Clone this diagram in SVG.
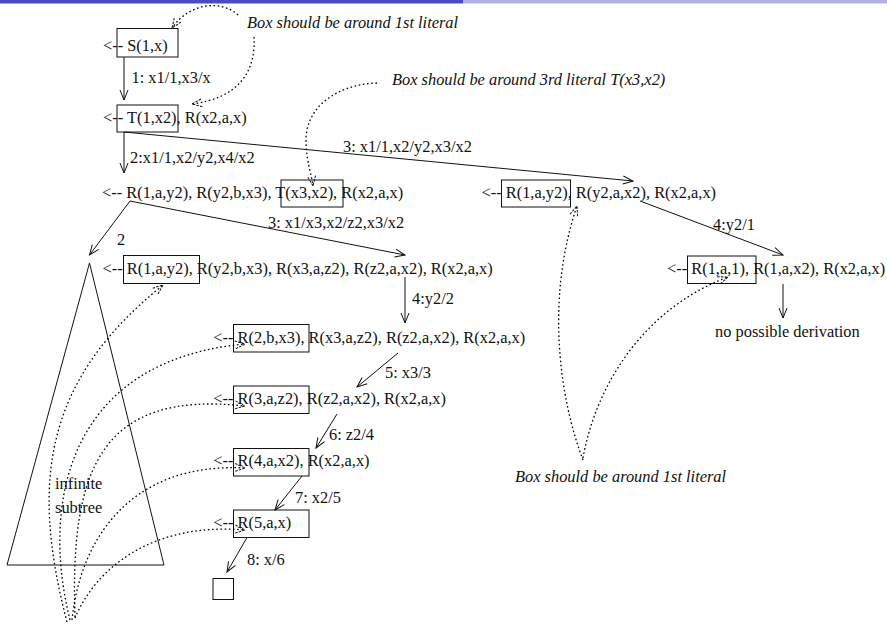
<svg xmlns="http://www.w3.org/2000/svg" width="887" height="626" viewBox="0 0 887 626">
<style>
text{font-family:"Liberation Serif","Times New Roman",serif;font-size:16.4px;fill:#111}
.note{font-style:italic}
.box{fill:none;stroke:#111;stroke-width:1}
.edge{fill:none;stroke:#111;stroke-width:1;marker-end:url(#ah)}
.dot{fill:none;stroke:#000;stroke-width:1.3;stroke-dasharray:1.6 2.6;marker-end:url(#ahd)}
.tri{fill:none;stroke:#111;stroke-width:1}
</style>
<defs>
<marker id="ah" markerUnits="userSpaceOnUse" markerWidth="14" markerHeight="12" refX="11" refY="5" orient="auto">
<path d="M1,1 L11,5 L1,9" fill="none" stroke="#111" stroke-width="1"/>
</marker>
<marker id="ahd" markerUnits="userSpaceOnUse" markerWidth="14" markerHeight="12" refX="11" refY="5" orient="auto">
<path d="M1,1 L11,5 L1,9" fill="none" stroke="#111" stroke-width="1" stroke-dasharray="2.5 1.2"/>
</marker>
</defs>
<rect x="0" y="0" width="887" height="626" fill="#fff"/>
<rect x="0" y="0" width="463" height="3.5" fill="#4b4bb9"/>
<rect x="463" y="0" width="424" height="3.5" fill="#b1b1e2"/>

<g id="n-s"><rect class="box" x="117" y="28.5" width="61" height="28.5"/><text x="103" y="50.5">&lt;-- S(1,x)</text></g>
<g id="n-t"><rect class="box" x="117" y="105" width="61" height="27"/><text x="103" y="122.5">&lt;-- T(1,x2), R(x2,a,x)</text></g>
<g id="n-r3a"><rect class="box" x="281" y="180" width="62" height="27"/><text x="102" y="198">&lt;-- R(1,a,y2), R(y2,b,x3), T(x3,x2), R(x2,a,x)</text></g>
<g id="n-r3b"><rect class="box" x="501.5" y="180" width="69" height="27"/><text x="481.5" y="198">&lt;-- R(1,a,y2), R(y2,a,x2), R(x2,a,x)</text></g>
<g id="n-r4b"><rect class="box" x="687.5" y="256" width="68.5" height="27.5"/><text x="667" y="274">&lt;-- R(1,a,1), R(1,a,x2), R(x2,a,x)</text></g>
<g id="n-fail"><text x="715" y="337">no possible derivation</text></g>
<g id="n-r4a"><rect class="box" x="123.5" y="255.5" width="76" height="28"/><text x="102.5" y="273.5">&lt;-- R(1,a,y2), R(y2,b,x3), R(x3,a,z2), R(z2,a,x2), R(x2,a,x)</text></g>
<g id="n-r5"><rect class="box" x="233.5" y="324.5" width="75.5" height="27.5"/><text x="213.3" y="342.5">&lt;-- R(2,b,x3), R(x3,a,z2), R(z2,a,x2), R(x2,a,x)</text></g>
<g id="n-r6"><rect class="box" x="233.5" y="386" width="75.5" height="27.5"/><text x="213.3" y="404">&lt;-- R(3,a,z2), R(z2,a,x2), R(x2,a,x)</text></g>
<g id="n-r7"><rect class="box" x="233.5" y="448.5" width="75.5" height="27.5"/><text x="213.3" y="466">&lt;-- R(4,a,x2), R(x2,a,x)</text></g>
<g id="n-r8"><rect class="box" x="233.5" y="510" width="75.5" height="27.5"/><text x="213.3" y="528">&lt;-- R(5,a,x)</text></g>
<g id="n-empty"><rect class="box" x="213" y="578.5" width="20.5" height="21"/></g>
<g id="n-subtree"><path class="tri" d="M89.5,263 L7,565 L164,565 Z"/><text x="55" y="489">infinite</text><text x="55" y="513">subtree</text></g>

<g id="connectors">
<path class="edge" d="M124,57 L124,100"/>
<path class="edge" d="M124,132 L124,173"/>
<path class="edge" d="M124,132 L633,181"/>
<path class="edge" d="M640,201 L783,255"/>
<path class="edge" d="M783,284 L783,318"/>
<path class="edge" d="M130,201 L89.5,255"/>
<path class="edge" d="M130,201 L405,255"/>
<path class="edge" d="M405,277 L405,323"/>
<path class="edge" d="M398,353 L357,387"/>
<path class="edge" d="M337,414 L316,448"/>
<path class="edge" d="M302,476 L275,510"/>
<path class="edge" d="M247,537.5 L227,572"/>
<text x="131.5" y="83">1: x1/1,x3/x</text>
<text x="130" y="163">2:x1/1,x2/y2,x4/x2</text>
<text x="343" y="152">3: x1/1,x2/y2,x3/x2</text>
<text x="713" y="230">4:y2/1</text>
<text x="117" y="245">2</text>
<text x="268" y="228">3: x1/x3,x2/z2,x3/x2</text>
<text x="412" y="304">4:y2/2</text>
<text x="385" y="378">5: x3/3</text>
<text x="329" y="440">6: z2/4</text>
<text x="295" y="503">7: x2/5</text>
<text x="247" y="565">8: x/6</text>
</g>

<g id="notes">
<text class="note" x="247" y="28">Box should be around 1st literal</text>
<text class="note" x="392" y="85">Box should be around 3rd literal T(x3,x2)</text>
<text class="note" x="515" y="482">Box should be around 1st literal</text>
<path class="dot" d="M238,15 C222,0 190,2 172,28"/>
<path class="dot" d="M254,37 C256,70 240,98 192,104"/>
<path class="dot" d="M377,83 C340,84 306,105 306,140 C306,160 311,172 313,186"/>
<path class="dot" d="M583,460 C560,400 545,300 577,206"/>
<path class="dot" d="M583,458 C595,390 640,310 728,277"/>
<path class="dot" d="M67,622 C30,480 45,380 163,285"/>
<path class="dot" d="M70,620 C40,500 70,360 245,344"/>
<path class="dot" d="M75,617 C70,470 100,390 245,406"/>
<path class="dot" d="M72,620 C80,540 130,462 245,468"/>
<path class="dot" d="M75,618 C95,570 150,522 245,530"/>
</g>
</svg>
